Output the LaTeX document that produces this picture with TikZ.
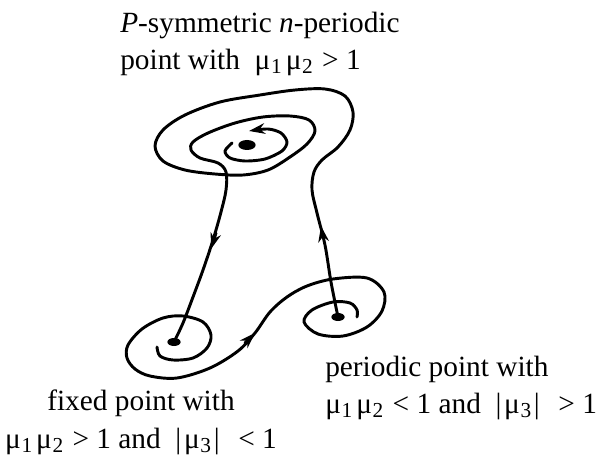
\documentclass[tikz,border=0pt]{standalone}
\usepackage{fontspec}
\setmainfont{Liberation Serif}
\usetikzlibrary{arrows.meta, shapes.geometric}

\newcommand{\mus}[1]{μ\kern0.5pt\raisebox{-0.3ex}{\fontsize{16}{16}\selectfont #1}}

\begin{document}
\begin{tikzpicture}[x=0.75pt, y=-0.75pt, >={Stealth[length=12pt, width=8pt]}]
    % 座標はピクセル単位 (y は下向き)
    \useasboundingbox (0,0) rectangle (604,460);
    \tikzset{
        orbit/.style={line width=2.2pt, line join=round, line cap=round},
        dot/.style={ellipse, fill, inner sep=0pt, minimum width=10pt, minimum height=6pt},
        txt/.style={font=\fontsize{22}{28}\selectfont, inner sep=0pt}
    }

    % 固定点・周期点
    \node[dot, minimum width=13pt, minimum height=7.5pt] (S) at (247,145) {};
    \node[dot] (F) at (174,342) {};
    \node[dot] (Q) at (338,317) {};

    % -------------------------------------------------------------
    % 上側の渦巻き (Q から上へ, S のまわりを回って F へ)
    % -------------------------------------------------------------
    \draw[orbit] plot[smooth, tension=0.55] coordinates {
        (Q.center) (331,282) (325,245) (317,213) (312,190) (314,172)
        (322,160) (338,147) (350,130) (353,112) (345,96) (325,89)
        (295,90) (260,95) (220,102) (185,115) (163,130) (155,146)
        (163,161) (185,170) (215,174) (243,175) (268,170) (290,157)
        (307,144) (315,131) (309,120) (290,116) (263,117) (235,123)
        (208,133) (193,142) (191,150) (200,158) (218,163) (226,172)
        (226,190) (221,212) (213,240) (203,270) (193,297) (183,323)
        (F.center)};
    \draw[orbit, ->] (323,238) -- (321,226);
    \draw[orbit, ->] (216,233) -- (211,249);

    % S のまわりの内側の渦
    \draw[orbit, ->] plot[smooth] coordinates {
        (232,143) (225,151) (230,158) (245,161) (265,159) (282,151)
        (287,142) (281,133) (268,129) (249,131)};

    % -------------------------------------------------------------
    % 下側の渦巻き (F から Q へ)
    % -------------------------------------------------------------
    \draw[orbit] plot[smooth, tension=0.55] coordinates {
        (157,347) (160,356) (173,360) (193,358) (207,348) (211,335)
        (203,322) (183,316) (163,318) (142,329) (128,345) (127,358)
        (135,369) (150,376) (177,378) (210,368) (238,351) (255,333)
        (270,312) (287,297) (307,286) (333,279) (367,278) (384,292)
        (382,311) (367,327) (343,336) (318,334) (304,322) (312,310)
        (333,302) (350,303) (357,310) (357,317)};
    \draw[orbit, ->] (245,343) -- (255,333);

    % ラベル
    \node[txt, anchor=north west, align=left] (Slabel) at (120,12)
        {\textit{P}-symmetric \textit{n}-periodic\\
         point with\ \ \mus{1}\kern3pt\mus{2}\hspace{7pt}> 1};
    \node[txt, anchor=north, align=center] (Flabel) at (141,390)
        {fixed point with\\
         \mus{1}\kern3pt\mus{2}\hspace{7pt}> 1 and\ \ |\kern2pt\mus{3}\kern2pt|\hspace{14pt}< 1};
    \node[txt, anchor=north west, align=left] (Qlabel) at (325,356)
        {periodic point with\\
         \mus{1}\kern3pt\mus{2}\hspace{7pt}< 1 and\ \ |\kern2pt\mus{3}\kern2pt|\hspace{14pt}> 1};

\end{tikzpicture}
\end{document}
